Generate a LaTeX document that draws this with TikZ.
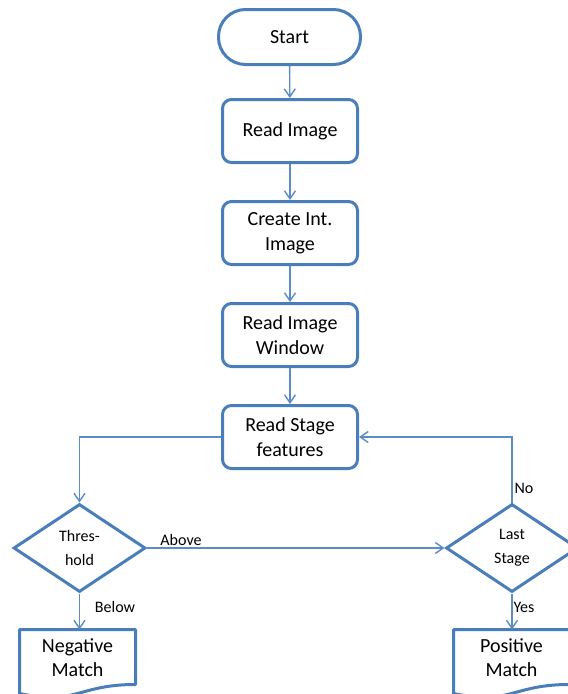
\documentclass[tikz,border=0pt]{standalone}
\usepackage{fontspec}
\setmainfont{Carlito}
\usetikzlibrary{arrows.meta,shapes.geometric,calc,backgrounds}
\definecolor{boxblue}{HTML}{4A7EBB}
\definecolor{lineblue}{HTML}{5B8CC8}

\begin{document}
\begin{tikzpicture}[x=1pt,y=-1pt,
  proc/.style={draw=boxblue, line width=3pt, rounded corners=9pt, fill=white,
    minimum width=135pt, minimum height=63pt, inner sep=0pt, align=center,
    font=\fontsize{20}{25}\selectfont},
  term/.style={proc, rounded corners=27pt, minimum width=142pt, minimum height=55pt},
  decide/.style={draw=boxblue, line width=3pt, diamond, fill=white,
    minimum width=132pt, minimum height=88pt, inner sep=0pt, align=center,
    font=\fontsize{16}{24}\selectfont},
  doctext/.style={minimum width=116pt, minimum height=56pt, inner sep=0pt,
    outer sep=0pt, anchor=north, align=center, font=\fontsize{20}{24}\selectfont},
  docline/.style={draw=boxblue, line width=3pt, line join=round, fill=white},
  conn/.style={draw=lineblue, line width=1.4pt,
    -{Straight Barb[length=8pt,width=11pt,line width=1.4pt]}},
  lbl/.style={font=\fontsize{16}{19}\selectfont, inner sep=0pt}
]
\clip (0,0) rectangle (568,694);

% main column
\node[term] (start) at (289.5,37) {Start};
\node[proc] (readimg) at (290,131) {Read Image};
\node[proc] (intimg)  at (290,233) {Create Int.\\Image};
\node[proc] (window)  at (290,335) {Read Image\\Window};
\node[proc] (stage)   at (290,437) {Read Stage\\features};

% decisions
\node[decide] (thr)  at (79.5,548) {Thres-\\hold};
\node[decide] (last) at (512,548)  {Last\\Stage};

% results: text nodes with a document outline drawn behind them
\node[doctext] (neg) at (77.5,629.5) {Negative\\Match};
\node[doctext] (pos) at (511.5,629.5) {Positive\\Match};
\begin{scope}[on background layer]
\foreach \n in {neg,pos}
  \path[docline] (\n.north west) -- (\n.north east)
    -- ($(\n.north east)+(0,55)$)
    .. controls ($(\n.north)+(0,55)$) and ($(\n.north)+(0,76)$)
    .. ($(\n.north west)+(0,64)$) -- cycle;
\end{scope}

% connectors
\draw[conn] (start) -- (readimg);
\draw[conn] (readimg) -- (intimg);
\draw[conn] (intimg) -- (window);
\draw[conn] (window) -- (stage);
\draw[conn] (stage.west) -| (thr.north);
\draw[conn] (last.north) |- (stage.east);
\draw[conn] (thr.east) -- (last.west);
\draw[conn] (thr.south) -- (thr.south |- neg.north);
\draw[conn] (last.south) -- (last.south |- pos.north);

% connector labels
\node[lbl] (above) at (181,540) {Above};
\node[lbl] (below) at (115,607) {Below};
\node[lbl] (no)    at (524,488) {No};
\node[lbl] (yes)   at (524,607) {Yes};
\end{tikzpicture}
\end{document}
